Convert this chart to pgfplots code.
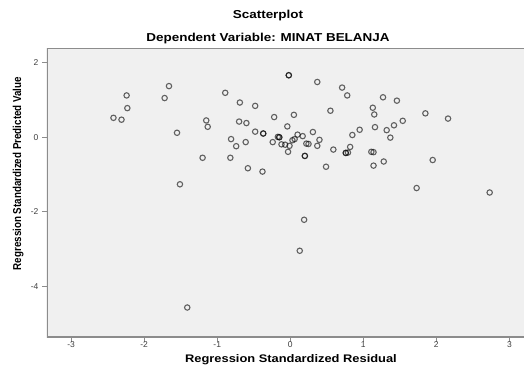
\documentclass[border=0pt]{standalone}
\usepackage{fontspec}
\setmainfont{Liberation Sans}
\usepackage{pgfplots}
\pgfplotsset{compat=1.18}
\definecolor{plotbg}{HTML}{F0F0F0}
\definecolor{framec}{HTML}{8C8C8C}
\begin{document}
\begin{tikzpicture}
\useasboundingbox (-47pt,-39pt) rectangle (477pt,337pt);
\begin{axis}[
  at={(0pt,0pt)}, anchor=south west,
  scale only axis, width=477pt, height=289pt,
  xmin=-3.33, xmax=3.20, ymin=-5.35, ymax=2.39,
  axis background/.style={fill=plotbg},
  axis line style={draw=none},
  xtick={-3,-2,-1,0,1,2,3}, ytick={-4,-2,0,2},
  tick align=outside, xtick pos=bottom, ytick pos=left,
  major tick length=5pt,
  every tick/.style={framec, line width=1pt},
  tick label style={font=\fontsize{8.5}{10}\selectfont, text=black!75},
  x tick label style={yshift=1.2pt, inner sep=1pt},
  /pgf/number format/assume math mode=true,
  every axis title shift=0pt,
  title={\fontsize{11.5}{13}\selectfont\bfseries\scalebox{1.17}[1]{Scatterplot}},
  title style={at={(axis description cs:0.4633,1.1028)}, anchor=base, inner sep=0pt},
  xlabel={\fontsize{11}{13}\selectfont\bfseries\scalebox{1.17}[1]{Regression Standardized Residual}},
  xlabel style={at={(axis description cs:0.5115,-0.0895)}, anchor=base, inner sep=0pt},
  ylabel={\fontsize{9.8}{12}\selectfont\bfseries\scalebox{1}[1.17]{Regression Standardized Predicted Value}},
  ylabel style={at={(axis description cs:-0.0545,0.5657)}, anchor=base, rotate=0, inner sep=0pt},
]
\addplot[only marks, mark=o, mark size=2.7pt, black, draw opacity=0.6, line width=1.1pt] coordinates {
(-2.42,0.52) (-2.31,0.47) (-2.24,1.12) (-2.23,0.78)
(-1.72,1.05) (-1.66,1.37) (-1.55,0.12) (-1.51,-1.26)
(-1.15,0.45) (-1.13,0.28) (-1.20,-0.55)
(-0.89,1.19) (-0.81,-0.05) (-0.82,-0.55) (-0.74,-0.24)
(-0.69,0.93) (-0.70,0.42) (-0.60,0.38) (-0.61,-0.13) (-0.58,-0.83)
(-0.48,0.84) (-0.48,0.15) (-0.37,0.10) (-0.37,0.10) (-0.38,-0.92)
(-0.22,0.54) (-0.24,-0.13) (-0.17,0.01) (-0.15,0.00) (-0.15,0.00)
(-0.02,1.66) (-0.02,1.66)
(0.37,1.48) (0.71,1.33) (0.78,1.12) (1.27,1.07) (1.46,0.98)
(0.05,0.60) (0.55,0.71) (1.13,0.79) (1.15,0.61) (1.85,0.64) (2.16,0.50)
(-0.04,0.29) (-0.12,-0.19) (-0.07,-0.20) (-0.03,-0.39) (-0.01,-0.23)
(0.03,-0.08) (0.06,-0.05) (0.10,0.07) (0.17,0.03) (0.20,-0.50) (0.20,-0.50)
(0.22,-0.17) (0.25,-0.18) (0.31,0.14) (0.37,-0.23) (0.40,-0.07)
(0.49,-0.79) (0.59,-0.33) (0.76,-0.42) (0.76,-0.42) (0.79,-0.41)
(0.82,-0.26) (0.85,0.06) (0.95,0.20) (1.11,-0.39) (1.14,-0.40)
(1.14,-0.76) (1.16,0.27) (1.28,-0.65) (1.32,0.19) (1.37,-0.01)
(1.42,0.32) (1.54,0.44) (1.95,-0.61) (1.73,-1.36) (2.73,-1.48)
(0.19,-2.21) (0.13,-3.04) (-1.41,-4.56)
};
\draw[framec, line width=1.2pt] (rel axis cs:1,1) -- (rel axis cs:0,1) -- (rel axis cs:0,0) -- (rel axis cs:1,0);
\end{axis}
\node[anchor=base, inner sep=0pt] at (221pt,295.3pt) {\fontsize{11.5}{13}\selectfont\bfseries\scalebox{1.17}[1]{Dependent Variable: MINAT BELANJA}};
\end{tikzpicture}
\end{document}
